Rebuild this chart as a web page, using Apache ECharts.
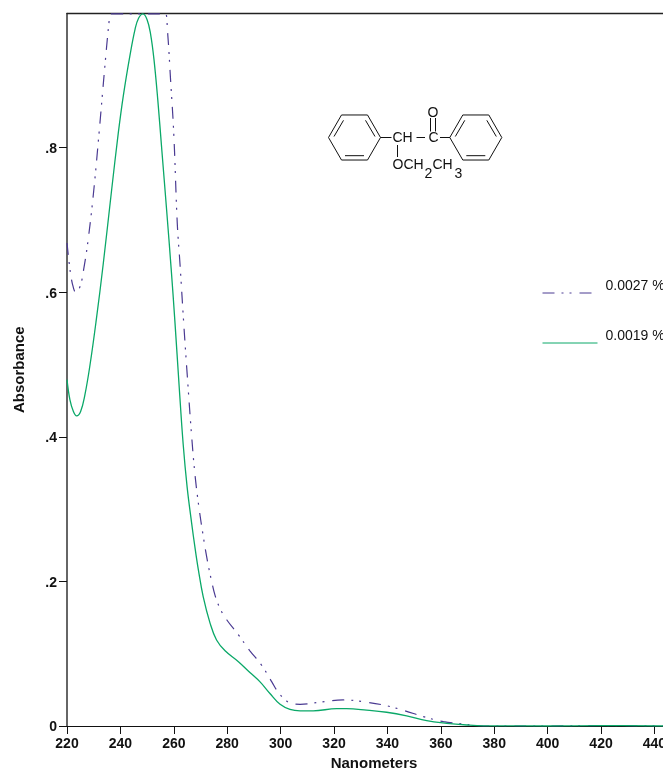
<!DOCTYPE html>
<html>
<head>
<meta charset="utf-8">
<style>html,body{margin:0;padding:0;background:#fff;overflow:hidden}#c{width:663px;height:770px}</style>
<script src="https://cdn.jsdelivr.net/npm/echarts@6/dist/echarts.min.js"></script>
</head>
<body>
<div id="c"></div>
<script>
const seriesNames = ['0.0027 %', '0.0019 %'];
const wavelengthA = [220,221,222,223.3,224.9,226.4,228,230,232,234,235.7,236.3,240,245,250,255,256.8,257.6,258.8,260,261.3,262.3,263.8,265,266.7,268,269.5,271,272.5,274,275.5,277.5,279.8,284.2,288.5,292.9,296.7,299,301,304,307.3,314.8,323.5,332,339.7,346.6,353.4,361,368.4,373.4,380,400,420,443.2];
const absorbanceA = [.668,.635,.612,.6,.608,.635,.675,.74,.82,.905,.972,.985,.985,.985,.985,.985,.985,.963,.893,.818,.695,.64,.552,.487,.4,.345,.3,.263,.23,.203,.18,.161,.147,.126,.104,.084,.061,.047,.039,.031,.03,.033,.036,.033,.028,.021,.013,.006,.0028,.0004,0,0,.0005,0];
const wavelengthB = [220,221.1,222.4,223.6,225.1,226.7,228.6,230.9,233.6,236.7,239.2,241.1,243.6,245.5,246.8,248.4,250,251.3,252.6,254,255.5,257.3,259,260.4,262,263.5,265,266.7,268,269.2,271,273.6,276,279.2,284.2,288.5,292.3,296,299.8,303.5,307.3,312.2,321,324.7,332.2,339.7,347.2,354.7,362.2,369.7,376,400,420,443.2];
const absorbanceB = [.479,.451,.435,.429,.435,.458,.499,.56,.64,.741,.82,.872,.928,.964,.979,.985,.977,.957,.921,.866,.797,.714,.633,.56,.47,.39,.33,.28,.245,.216,.179,.142,.119,.104,.089,.074,.061,.045,.03,.023,.021,.021,.024,.024,.022,.019,.014,.0073,.0037,.0014,.0003,0,.0005,0];
const xRange = [220, 443.2];
const yRange = [0, 0.9855];
const yTickLabels = {0:'0', 0.2:'.2', 0.4:'.4', 0.6:'.6', 0.8:'.8'};
const xTitle = 'Nanometers';
const yTitle = 'Absorbance';

const FONT = '"Liberation Sans", Arial, sans-serif';
const pair = (xs, ys) => xs.map((x, i) => [x, ys[i]]);

function hexagon(cx, cy, r) {
  const pts = [];
  for (let i = 0; i < 6; i++) {
    const a = i * Math.PI / 3;
    pts.push([cx + r * Math.cos(a), cy + r * Math.sin(a)]);
  }
  return pts;
}
const bondStyle = {stroke:'#111', lineWidth:1, fill:null};
const ln = (x1,y1,x2,y2) => ({type:'line', shape:{x1,y1,x2,y2}, style:bondStyle, silent:true});
const tx = (x,y,text,size) => ({type:'text', x, y, silent:true,
  style:{text, fill:'#111', font:(size||14)+'px '+FONT, textAlign:'left', textVerticalAlign:'middle'}});
function ring(cx, cy) {
  const r = 26, q = 21;
  const inner = hexagon(cx, cy, q);
  return [
    {type:'polygon', shape:{points:hexagon(cx,cy,r)}, style:bondStyle, silent:true},
    ln(inner[2][0]+1,inner[2][1],inner[1][0]-1,inner[1][1]),
    ln(inner[3][0]+.5,inner[3][1]-1,inner[4][0]-.5,inner[4][1]+1),
    ln(inner[0][0]-.5,inner[0][1]-1,inner[5][0]+.5,inner[5][1]+1)
  ];
}
const molecule = [
  ...ring(354.5,137.5), ...ring(475.8,137.5),
  ln(380.5,137.5,391.5,137.5),
  tx(392.5,138,'CH'),
  ln(416.5,137.5,425,137.5),
  tx(428.5,138,'C'),
  ln(440,137.5,450,137.5),
  tx(427.5,113,'O'),
  ln(430.5,118,430.5,131.5), ln(435.5,118,435.5,131.5),
  ln(397.5,145,397.5,157),
  tx(392.5,165,'OCH'), tx(424.5,174,'2'), tx(432.5,165,'CH'), tx(454.5,174,'3')
];

const chart = echarts.init(document.getElementById('c'), null, {renderer:'canvas'});
chart.setOption({
  animation:false,
  backgroundColor:'#fff',
  grid:{left:67, right:0, top:13.5, bottom:44, show:false, containLabel:false, outerBoundsMode:'none'},
  xAxis:[{
    type:'value', min:xRange[0], max:xRange[1], interval:20,
    name:xTitle, nameLocation:'middle', nameGap:25,
    nameTextStyle:{fontFamily:FONT, fontWeight:'bold', fontSize:15, color:'#111', padding:[0,0,0,18]},
    axisLine:{show:true, lineStyle:{color:'#111', width:1}},
    axisTick:{show:true, length:8, lineStyle:{color:'#111', width:1}},
    axisLabel:{fontFamily:FONT, fontWeight:'bold', fontSize:14, color:'#111', margin:11, showMaxLabel:false, showMinLabel:true},
    splitLine:{show:false}
  },{
    type:'value', position:'top', min:xRange[0], max:xRange[1], interval:20,
    axisLine:{show:true, lineStyle:{color:'#222', width:1.3}},
    axisTick:{show:false}, axisLabel:{show:false}, splitLine:{show:false}
  }],
  yAxis:{
    type:'value', min:yRange[0], max:yRange[1], interval:0.2,
    name:yTitle, nameLocation:'middle', nameGap:40,
    nameTextStyle:{fontFamily:FONT, fontWeight:'bold', fontSize:15, color:'#111'},
    axisLine:{show:true, lineStyle:{color:'#333', width:1.5}},
    axisTick:{show:true, length:8, lineStyle:{color:'#111', width:1}},
    axisLabel:{fontFamily:FONT, fontWeight:'bold', fontSize:14, color:'#111', margin:10, showMaxLabel:false, verticalAlign:'top', lineHeight:3,
      formatter:v => { const k = Math.round(v*10)/10; return yTickLabels[k] !== undefined ? yTickLabels[k] : ''; }},
    splitLine:{show:false}
  },
  legend:{
    show:true, orient:'vertical', left:542, top:279, itemWidth:55, itemHeight:27, itemGap:22, padding:0,
    selectedMode:false, itemStyle:{opacity:0}, lineStyle:{width:1},
    formatter:name => name + '\n\u00a0',
    textStyle:{fontFamily:FONT, fontSize:14, lineHeight:14, color:'#111', padding:[0,0,0,3]},
    data:seriesNames
  },
  series:[
    {name:seriesNames[0], type:'line', data:pair(wavelengthA, absorbanceA), showSymbol:false, symbol:'none', smooth:0.4,
     lineStyle:{color:'#4a3a92', width:1.2, type:[12,7,2,6,2,8]}, itemStyle:{color:'#4a3a92'}, z:2},
    {name:seriesNames[1], type:'line', data:pair(wavelengthB, absorbanceB), showSymbol:false, symbol:'none', smooth:0.4,
     lineStyle:{color:'#0aa868', width:1.3}, itemStyle:{color:'#0aa868'}, z:3}
  ],
  graphic:{elements:molecule}
});
</script>
</body>
</html>
